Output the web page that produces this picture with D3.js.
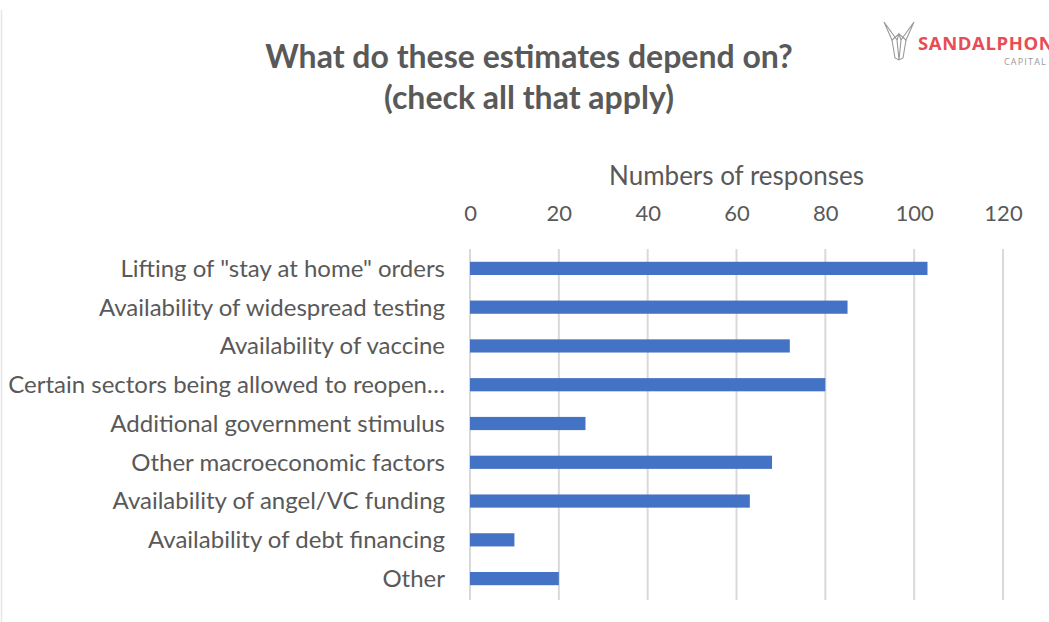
<!DOCTYPE html>
<html>
<head>
<meta charset="utf-8">
<script src="https://cdn.jsdelivr.net/npm/d3@7/dist/d3.min.js"></script>
<style>
  html, body { margin: 0; padding: 0; background: #fff; }
  svg { display: block; }
  text { font-family: Lato, "Open Sans", sans-serif; fill: #595959; }
</style>
</head>
<body>
<svg id="chart" width="1049" height="622"></svg>
<script>
// Survey answers: what do the estimates depend on
const categories = [
  'Lifting of "stay at home" orders',
  "Availability of widespread testing",
  "Availability of vaccine",
  "Certain sectors being allowed to reopen…",
  "Additional government stimulus",
  "Other macroeconomic factors",
  "Availability of angel/VC funding",
  "Availability of debt financing",
  "Other"
];
const responses = [103, 85, 72, 80, 26, 68, 63, 10, 20];
const tickValues = [0, 20, 40, 60, 80, 100, 120];
const titleLines = ["What do these estimates depend on?", "(check all that apply)"];
const axisTitle = "Numbers of responses";

const svg = d3.select("#chart");

// faint frame edge on the left
svg.append("line")
  .attr("x1", 1.5).attr("x2", 1.5).attr("y1", 10).attr("y2", 622)
  .attr("stroke", "#e6e6e6").attr("stroke-width", 1.5);

const x = d3.scaleLinear().domain([0, 120]).range([470, 1003]);
const y = d3.scaleBand().domain(categories).range([249, 598]).paddingInner(0.66).paddingOuter(0.33);

// vertical gridlines
svg.append("g")
  .selectAll("line")
  .data(tickValues)
  .join("line")
  .attr("x1", d => x(d)).attr("x2", d => x(d))
  .attr("y1", 249).attr("y2", 600)
  .attr("stroke", "#d9d9d9").attr("stroke-width", 2);

// top axis tick labels
const axis = d3.axisTop(x).tickValues(tickValues).tickSize(0).tickPadding(0);
const gAxis = svg.append("g").attr("transform", "translate(0,221)").call(axis);
gAxis.select(".domain").remove();
gAxis.selectAll("text")
  .attr("font-size", 22)
  .attr("dy", 0)
  .style("font-family", "Lato, 'Open Sans', sans-serif")
  .attr("fill", "#595959");

// axis title
svg.append("text")
  .attr("x", (x(0) + x(120)) / 2).attr("y", 185)
  .attr("text-anchor", "middle")
  .attr("font-size", 26)
  .text(axisTitle);

// bars
svg.append("g")
  .selectAll("rect")
  .data(categories.map((c, i) => ({ c, v: responses[i] })))
  .join("rect")
  .attr("x", x(0))
  .attr("y", d => y(d.c))
  .attr("width", d => x(d.v) - x(0))
  .attr("height", y.bandwidth())
  .attr("fill", "#4472C4");

// category labels
svg.append("g")
  .selectAll("text")
  .data(categories)
  .join("text")
  .attr("x", 445)
  .attr("y", d => y(d) + y.bandwidth() / 2)
  .attr("dy", "0.35em")
  .attr("text-anchor", "end")
  .attr("font-size", 24)
  .text(d => d);

// chart title
svg.append("g")
  .selectAll("text")
  .data(titleLines)
  .join("text")
  .attr("x", 529)
  .attr("y", (d, i) => 68 + i * 41)
  .attr("text-anchor", "middle")
  .attr("font-size", 32)
  .attr("font-weight", "bold")
  .text(d => d);

// company mark
const logo = svg.append("g").attr("stroke", "#9a9a9a").attr("fill", "none").attr("stroke-width", 1.1);
logo.append("path").attr("d", "M884,22 L897,40 L899,60 L901,40 L914,22 L906,40 L899,34 L892,40 Z");
logo.append("path").attr("d", "M892,40 L895,58 L899,60 L903,58 L906,40");
logo.append("path").attr("d", "M897,40 L899,34 L901,40");
svg.append("text")
  .attr("x", 918).attr("y", 50)
  .attr("font-size", 18.5)
  .attr("font-weight", "bold")
  .attr("letter-spacing", 0.6)
  .style("fill", "#e84c55")
  .style("font-family", "'Open Sans', sans-serif")
  .text("SANDALPHON");
svg.append("text")
  .attr("x", 1047).attr("y", 65)
  .attr("text-anchor", "end")
  .attr("font-size", 9)
  .attr("letter-spacing", 1.2)
  .style("fill", "#999")
  .style("font-family", "'Open Sans', sans-serif")
  .text("CAPITAL");
</script>
</body>
</html>
